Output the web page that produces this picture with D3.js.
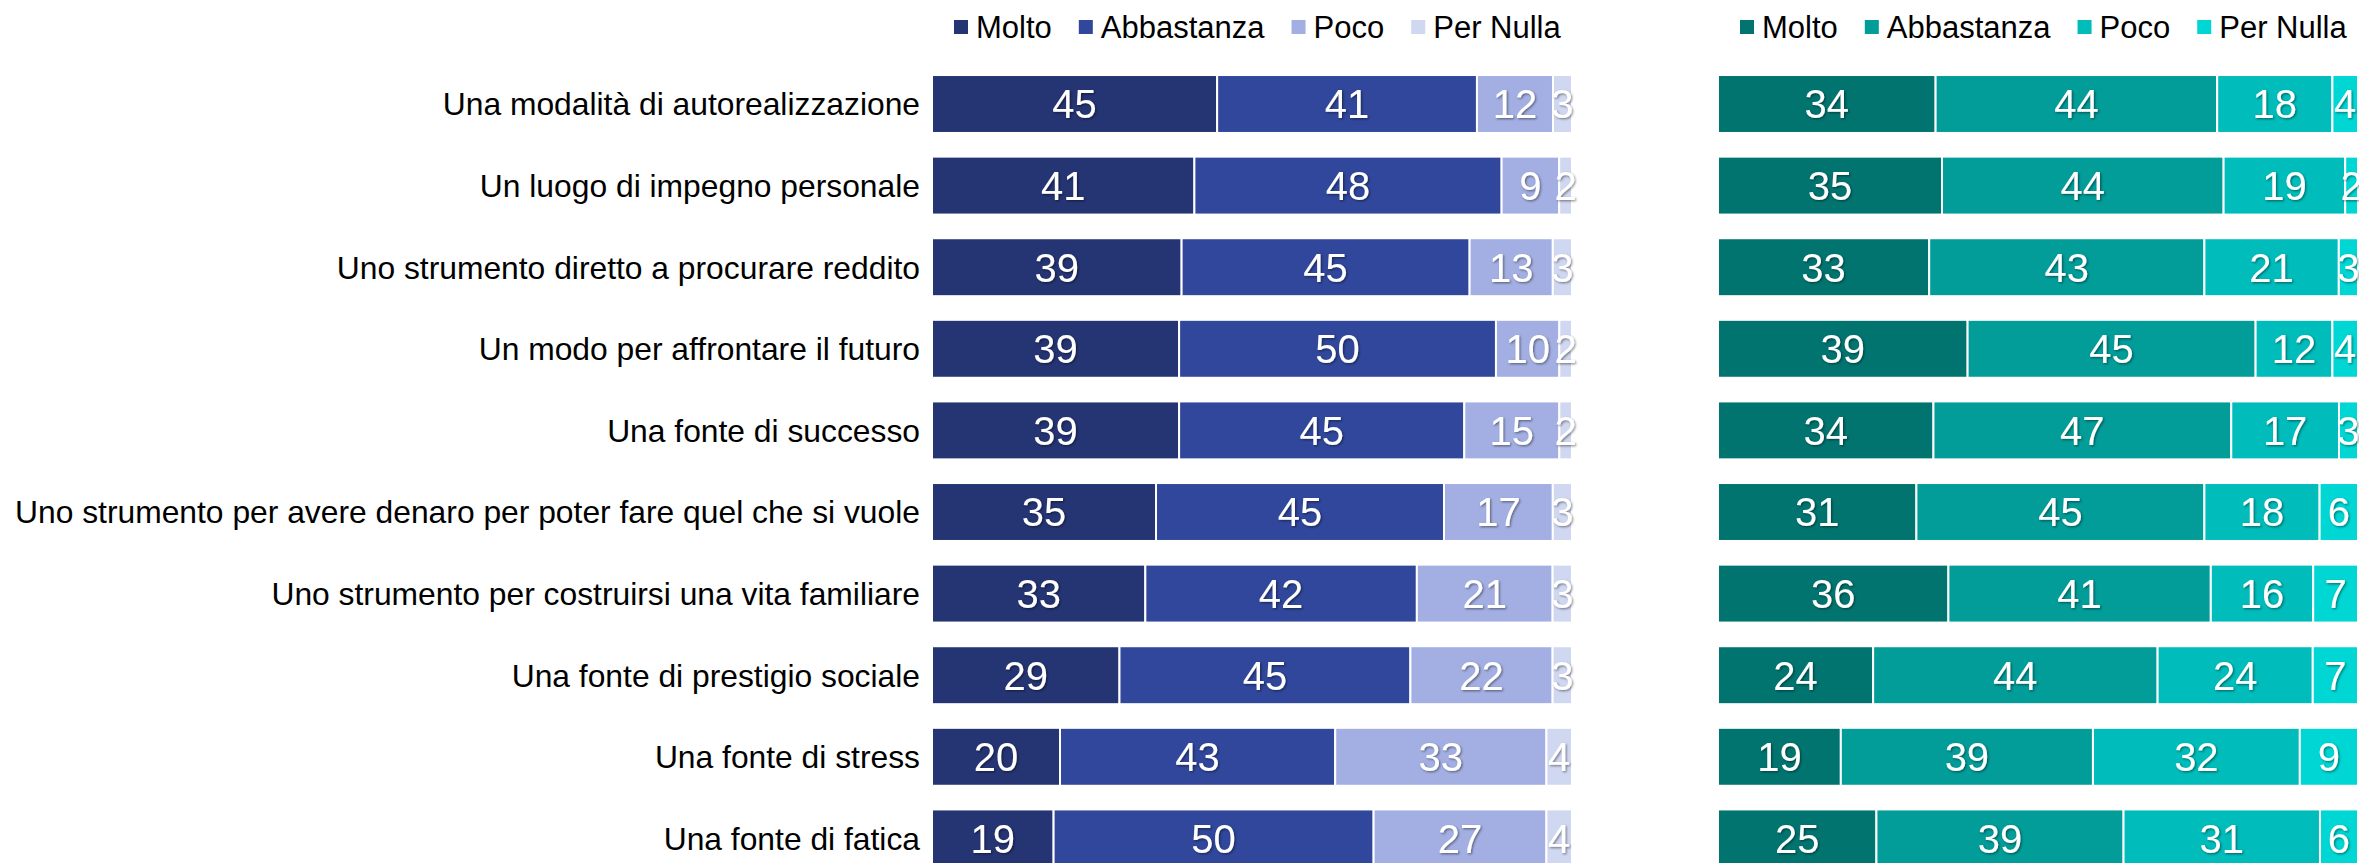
<!DOCTYPE html>
<html>
<head>
<meta charset="utf-8">
<script src="https://cdn.jsdelivr.net/npm/d3@7"></script>
<style>
  body { margin: 0; background: #fff; }
  svg { display: block; font-family: "Liberation Sans", Arial, sans-serif; }
</style>
</head>
<body>
<div id="chart"></div>
<script>
(function () {
    var width = 2359,
        height = 863;

    var categories = [
        "Una modalità di autorealizzazione",
        "Un luogo di impegno personale",
        "Uno strumento diretto a procurare reddito",
        "Un modo per affrontare il futuro",
        "Una fonte di successo",
        "Uno strumento per avere denaro per poter fare quel che si vuole",
        "Uno strumento per costruirsi una vita familiare",
        "Una fonte di prestigio sociale",
        "Una fonte di stress",
        "Una fonte di fatica"
    ];
    var seriesNames = ["Molto", "Abbastanza", "Poco", "Per Nulla"];

    // left panel
    var leftMolto = [45, 41, 39, 39, 39, 35, 33, 29, 20, 19];
    var leftAbbastanza = [41, 48, 45, 50, 45, 45, 42, 45, 43, 50];
    var leftPoco = [12, 9, 13, 10, 15, 17, 21, 22, 33, 27];
    var leftPerNulla = [3, 2, 3, 2, 2, 3, 3, 3, 4, 4];

    // right panel
    var rightMolto = [34, 35, 33, 39, 34, 31, 36, 24, 19, 25];
    var rightAbbastanza = [44, 44, 43, 45, 47, 45, 41, 44, 39, 39];
    var rightPoco = [18, 19, 21, 12, 17, 18, 16, 24, 32, 31];
    var rightPerNulla = [4, 2, 3, 4, 3, 6, 7, 7, 9, 6];

    var leftColors = ["#253473", "#30479b", "#a3afe2", "#d0d7f0"];
    var rightColors = ["#017470", "#029c99", "#00bcba", "#00d6d3"];

    function buildRows(a, b, c, d) {
        return categories.map(function (cat, i) {
            return { cat: cat, "Molto": a[i], "Abbastanza": b[i], "Poco": c[i], "Per Nulla": d[i] };
        });
    }

    var svg = d3.select("#chart")
        .append("svg")
        .attr("width", width)
        .attr("height", height);

    var defs = svg.append("defs");
    defs.append("filter")
        .attr("id", "shadow")
        .attr("x", "-20%").attr("y", "-20%")
        .attr("width", "140%").attr("height", "140%")
        .append("feDropShadow")
        .attr("dx", 1.2).attr("dy", 1.2)
        .attr("stdDeviation", 0.8)
        .attr("flood-color", "#000")
        .attr("flood-opacity", 0.45);

    var y = d3.scaleBand()
        .domain(categories)
        .range([63.2, 879.2])
        .paddingInner(0.29)
        .paddingOuter(0.145);

    var stack = d3.stack()
        .keys(seriesNames)
        .offset(d3.stackOffsetExpand);

    function drawPanel(rows, colors, x0, x1, legendX) {
        var x = d3.scaleLinear().domain([0, 1]).range([x0, x1]);
        var color = d3.scaleOrdinal().domain(seriesNames).range(colors);
        var layers = stack(rows);

        var g = svg.append("g");

        var layer = g.selectAll(".layer")
            .data(layers)
            .enter().append("g")
            .attr("class", "layer")
            .attr("fill", function (d) { return color(d.key); });

        layer.selectAll("rect")
            .data(function (d) { return d; })
            .enter().append("rect")
            .attr("x", function (d) { return x(d[0]); })
            .attr("y", function (d) { return y(d.data.cat); })
            .attr("width", function (d) { return x(d[1]) - x(d[0]); })
            .attr("height", y.bandwidth())
            .attr("stroke", "#fff")
            .attr("stroke-width", 2);

        layer.selectAll("text")
            .data(function (d) { return d.map(function (p) { return { p: p, key: d.key }; }); })
            .enter().append("text")
            .attr("x", function (d) { return (x(d.p[0]) + x(d.p[1])) / 2; })
            .attr("y", function (d) { return y(d.p.data.cat) + y.bandwidth() / 2; })
            .attr("dy", "0.36em")
            .attr("text-anchor", "middle")
            .attr("fill", "#fff")
            .attr("filter", "url(#shadow)")
            .style("font-size", "40px")
            .text(function (d) { return d.p.data[d.key]; });

        // legend
        var lx = legendX;
        seriesNames.forEach(function (name) {
            var item = svg.append("g").attr("transform", "translate(" + lx + ",27)");
            item.append("rect")
                .attr("x", 0).attr("y", -7)
                .attr("width", 14).attr("height", 14)
                .attr("fill", color(name));
            var t = item.append("text")
                .attr("x", 22)
                .attr("dy", "0.36em")
                .style("font-size", "31px")
                .attr("fill", "#000")
                .text(name);
            lx += 22 + t.node().getComputedTextLength() + 27;
        });
    }

    drawPanel(buildRows(leftMolto, leftAbbastanza, leftPoco, leftPerNulla), leftColors, 932, 1572, 954);
    drawPanel(buildRows(rightMolto, rightAbbastanza, rightPoco, rightPerNulla), rightColors, 1718, 2358, 1740);

    // category labels
    svg.append("g").selectAll("text")
        .data(categories)
        .enter().append("text")
        .attr("x", 920)
        .attr("y", function (d) { return y(d) + y.bandwidth() / 2; })
        .attr("dy", "0.36em")
        .attr("text-anchor", "end")
        .style("font-size", "31.8px")
        .attr("fill", "#000")
        .text(function (d) { return d; });
})();
</script>
</body>
</html>
